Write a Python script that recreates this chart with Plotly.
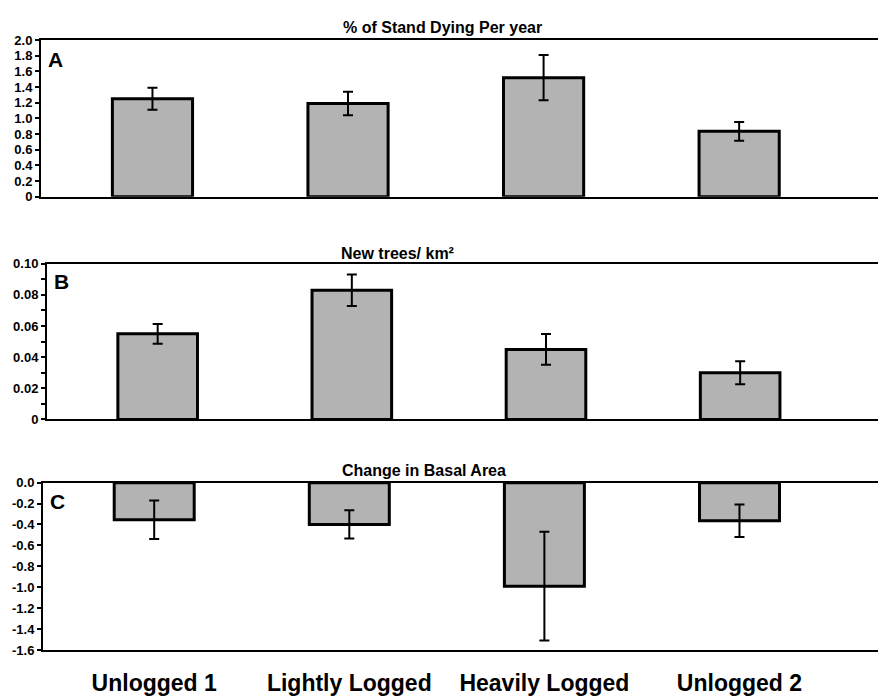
import plotly.graph_objects as go

# Stand categories shared by all three panels
categories = ["Unlogged 1", "Lightly Logged", "Heavily Logged", "Unlogged 2"]

# Panel A: % of stand dying per year (mean and error)
dying_pct = [1.25, 1.19, 1.52, 0.835]
dying_err = [0.14, 0.15, 0.29, 0.12]

# Panel B: new trees per km2
new_trees = [0.055, 0.083, 0.045, 0.030]
new_trees_err = [0.0063, 0.0101, 0.0099, 0.0074]

# Panel C: change in basal area
basal_change = [-0.355, -0.40, -0.99, -0.365]
basal_err = [0.185, 0.135, 0.52, 0.155]

# Tick values / labels for each panel
a_tickvals = [0, 0.2, 0.4, 0.6, 0.8, 1.0, 1.2, 1.4, 1.6, 1.8, 2.0]
a_ticktext = ["0", "0.2", "0.4", "0.6", "0.8", "1.0", "1.2", "1.4", "1.6", "1.8", "2.0"]
b_tickvals = [0, 0.02, 0.04, 0.06, 0.08, 0.10]
b_ticktext = ["0", "0.02", "0.04", "0.06", "0.08", "0.10"]
c_tickvals = [0.0, -0.2, -0.4, -0.6, -0.8, -1.0, -1.2, -1.4, -1.6]
c_ticktext = ["0.0", "-0.2", "-0.4", "-0.6", "-0.8", "-1.0", "-1.2", "-1.4", "-1.6"]

panel_titles = ["% of Stand Dying Per year", "New trees/ km\u00b2", "Change in Basal Area"]
panel_letters = ["A", "B", "C"]

FONT = "Liberation Sans, Arial, sans-serif"
BAR_FILL = "#b3b3b3"
W, H = 878, 696


def px_y(p):
    return 1 - p / H


fig = go.Figure()

series = [
    (dying_pct, dying_err, "x", "y"),
    (new_trees, new_trees_err, "x2", "y2"),
    (basal_change, basal_err, "x3", "y3"),
]
for vals, errs, xa, ya in series:
    fig.add_trace(go.Bar(
        x=categories, y=vals, xaxis=xa, yaxis=ya, width=0.41,
        marker=dict(color=BAR_FILL, line=dict(color="black", width=3)),
        error_y=dict(type="data", array=errs, visible=True,
                     color="black", thickness=2, width=5),
        showlegend=False, hoverinfo="skip",
    ))

xrange = [-0.57, 3.71]
tickfont = dict(family=FONT, size=13, color="black", weight="bold")

# vertical extents (pixels from top) and left edge of each panel
panels = [
    dict(top=34, bottom=195, left=41),
    dict(top=264, bottom=424, left=47),
    dict(top=489, bottom=661, left=43),
]

common_x = dict(type="category", categoryorder="array", categoryarray=categories,
                range=xrange, showline=True, mirror=True, linecolor="black",
                linewidth=2, showgrid=False, zeroline=False, ticks="")
common_y = dict(showline=True, linecolor="black", linewidth=2, showgrid=False,
                zeroline=False, ticks="outside", ticklen=4, tickwidth=2,
                tickcolor="black", tickfont=tickfont, tickmode="array")

layout = dict(
    width=W, height=H, autosize=False,
    margin=dict(l=0, r=0, t=0, b=0),
    paper_bgcolor="white", plot_bgcolor="white",
    bargap=0.4,
)

layout["xaxis"] = dict(common_x, domain=[panels[0]["left"] / W, 1], anchor="y",
                       showticklabels=False)
layout["yaxis"] = dict(common_y, domain=[px_y(panels[0]["bottom"]), px_y(panels[0]["top"])],
                       anchor="x", range=[0, 2.0],
                       tickvals=a_tickvals, ticktext=a_ticktext)
layout["xaxis2"] = dict(common_x, domain=[panels[1]["left"] / W, 1], anchor="y2",
                        showticklabels=False)
layout["yaxis2"] = dict(common_y, domain=[px_y(panels[1]["bottom"]), px_y(panels[1]["top"])],
                        anchor="x2", range=[0, 0.10],
                        tickvals=b_tickvals, ticktext=b_ticktext,
                        minor=dict(dtick=0.01, ticks="outside", ticklen=4,
                                   tickwidth=2, tickcolor="black", showgrid=False))
layout["xaxis3"] = dict(common_x, domain=[panels[2]["left"] / W, 1], anchor="y3",
                        showticklabels=True, ticklabelstandoff=11,
                        tickfont=dict(family=FONT, size=23, color="black", weight="bold"))
layout["yaxis3"] = dict(common_y, domain=[px_y(panels[2]["bottom"]), px_y(panels[2]["top"])],
                        anchor="x3", range=[-1.6, 0.0],
                        tickvals=c_tickvals, ticktext=c_ticktext)

fig.update_layout(**layout)

# Panel titles above each plot area
title_pos = [(442, 21), (397, 253), (424, 477)]
for text, (cx, cy) in zip(panel_titles, title_pos):
    fig.add_annotation(text=text, xref="paper", yref="paper",
                       x=cx / W, y=px_y(cy), xanchor="center", yanchor="middle",
                       showarrow=False,
                       font=dict(family=FONT, size=16, color="black", weight="bold"))

# Panel letters in the upper-left corner of each plot
letter_pos = [(55, 54), (61, 282), (57, 508)]
for text, (cx, cy) in zip(panel_letters, letter_pos):
    fig.add_annotation(text=text, xref="paper", yref="paper",
                       x=cx / W, y=px_y(cy), xanchor="center", yanchor="middle",
                       showarrow=False,
                       font=dict(family=FONT, size=21, color="black", weight="bold"))

fig.write_html("out.html")
